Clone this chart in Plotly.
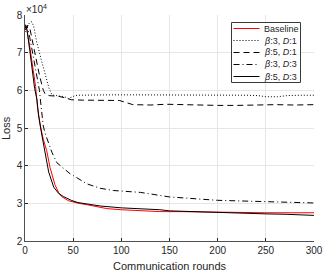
import plotly.graph_objects as go

# Loss values in units of 1e4
x_base = [0, 2, 5, 8, 11, 13, 16, 19, 22.5, 26, 31, 35, 38, 45, 54, 65, 85, 100, 120, 140, 160, 180, 200, 250, 300]
y_base = [7.70, 7.60, 7.15, 6.60, 6.10, 5.55, 5.05, 4.70, 4.40, 3.95, 3.50, 3.28, 3.18, 3.07, 3.01, 2.96, 2.86, 2.83, 2.80, 2.78, 2.78, 2.77, 2.76, 2.75, 2.75]

x_b3d1 = [0, 2, 5, 7, 9, 12, 17, 21, 25, 28, 32, 37, 42, 45, 48, 52, 55, 70, 90, 110, 130, 150, 170, 190, 210, 230, 242, 250, 262, 272, 285, 300]
y_b3d1 = [7.55, 7.70, 7.80, 7.82, 7.70, 7.30, 6.80, 6.40, 6.05, 5.88, 5.86, 5.85, 5.82, 5.78, 5.82, 5.86, 5.87, 5.88, 5.88, 5.88, 5.88, 5.88, 5.88, 5.88, 5.88, 5.87, 5.86, 5.83, 5.83, 5.86, 5.87, 5.87]

x_b5d1 = [0, 3, 5, 10, 15, 19, 21, 25, 35, 42, 48, 60, 80, 98, 112, 130, 147, 160, 180, 200, 220, 240, 260, 280, 300]
y_b5d1 = [7.60, 7.72, 7.65, 7.00, 6.40, 6.00, 5.90, 5.86, 5.84, 5.80, 5.75, 5.74, 5.74, 5.73, 5.62, 5.61, 5.63, 5.62, 5.61, 5.60, 5.60, 5.62, 5.62, 5.61, 5.62]

x_b3d3 = [0, 2, 5, 10, 15, 17, 19, 21, 23, 28, 33, 40, 47, 50, 64, 78, 92, 120, 140, 150, 200, 250, 300]
y_b3d3 = [7.65, 7.72, 7.40, 6.65, 6.00, 5.50, 5.05, 4.85, 4.70, 4.35, 4.08, 3.92, 3.78, 3.74, 3.52, 3.40, 3.34, 3.29, 3.20, 3.17, 3.08, 3.04, 3.01]

x_b5d3 = [0, 2, 5, 8, 10, 12.5, 14, 17.5, 21, 24.6, 29.8, 35, 40, 48, 55, 65, 78, 100, 120, 140, 150, 170, 190, 210, 230, 250, 270, 285, 300]
y_b5d3 = [7.75, 7.62, 7.05, 6.40, 6.05, 5.74, 5.34, 4.81, 4.28, 3.83, 3.43, 3.26, 3.18, 3.08, 3.02, 2.98, 2.93, 2.88, 2.86, 2.83, 2.80, 2.78, 2.76, 2.75, 2.73, 2.72, 2.71, 2.69, 2.68]

x_ticks = [0, 50, 100, 150, 200, 250, 300]
y_ticks = [2, 3, 4, 5, 6, 7, 8]

series_names = ["Baseline", "<i>β</i>:3, <i>D</i>:1", "<i>β</i>:5, <i>D</i>:1",
                "<i>β</i>:3, <i>D</i>:3", "<i>β</i>:5, <i>D</i>:3"]
series_x = [x_base, x_b3d1, x_b5d1, x_b3d3, x_b5d3]
series_y = [y_base, y_b3d1, y_b5d1, y_b3d3, y_b5d3]
series_color = ["#ff0000", "black", "black", "black", "black"]
series_dash = ["solid", "1px,2px", "6px,4px", "6px,3px,1px,3px", "solid"]

AX = "#262626"
GRID = "#e6e6e6"
FONT = "Liberation Sans, Arial, sans-serif"

W, H = 323, 272
ML, MR, MT, MB = 25, 9, 15, 31
PW, PH = W - ML - MR, H - MT - MB

fig = go.Figure()
for xs, ys, nm, c, d in zip(series_x, series_y, series_names, series_color, series_dash):
    fig.add_trace(go.Scatter(x=xs, y=ys, mode="lines", name=nm, showlegend=False,
                             hoverinfo="skip",
                             line=dict(color=c, width=1, dash=d)))

fig.update_layout(
    width=W, height=H,
    margin=dict(l=ML, r=MR, t=MT, b=MB),
    paper_bgcolor="white", plot_bgcolor="white",
    font=dict(family=FONT, size=10, color=AX),
    showlegend=False,
)
fig.update_xaxes(range=[0, 300], tickvals=x_ticks, ticktext=[str(v) for v in x_ticks],
                 showgrid=True, gridcolor=GRID, gridwidth=1,
                 showline=True, linecolor=AX, linewidth=0.8, mirror=False,
                 ticks="inside", ticklen=3, tickcolor=AX, zeroline=False,
                 tickfont=dict(size=10, color=AX), automargin=False)
fig.update_yaxes(range=[2, 8], tickvals=y_ticks, ticktext=[str(v) for v in y_ticks],
                 showgrid=True, gridcolor=GRID, gridwidth=1,
                 showline=True, linecolor=AX, linewidth=0.8, mirror=False,
                 ticks="inside", ticklen=3, tickcolor=AX, zeroline=False,
                 tickfont=dict(size=10, color=AX), automargin=False)

# Legend key box in the upper right, MATLAB style
def px2paper(px, py):
    return (px - ML) / PW, (H - MB - py) / PH

lx0, ly0, lx1, ly1 = 231.5, 22.5, 300.5, 82.5
ax0, ay0 = px2paper(lx0, ly0)
ax1, ay1 = px2paper(lx1, ly1)
fig.add_shape(type="rect", xref="paper", yref="paper", x0=ax0, y0=ay1, x1=ax1, y1=ay0,
              line=dict(color="#3a3a3a", width=1), fillcolor="white", layer="above")
row_h = (ly1 - ly0) / len(series_names)
for i, (nm, c, d) in enumerate(zip(series_names, series_color, series_dash)):
    cy = ly0 + row_h * (i + 0.5)
    sx0, sy = px2paper(233.5, cy)
    sx1, _ = px2paper(259.5, cy)
    tx, _ = px2paper(261.5, cy)
    fig.add_shape(type="line", xref="paper", yref="paper", x0=sx0, y0=sy, x1=sx1, y1=sy,
                  line=dict(color=c, width=1, dash=d), layer="above")
    fig.add_annotation(text=nm, xref="paper", yref="paper", x=tx, y=sy,
                       xanchor="left", yanchor="middle", showarrow=False,
                       font=dict(size=9, color=AX))

fig.add_annotation(text="×10<sup>4</sup>", xref="paper", yref="paper", x=0.0, y=1.0,
                   xanchor="left", yanchor="bottom", showarrow=False,
                   font=dict(size=10, color=AX), xshift=-1, yshift=-2)
fig.add_annotation(text="Communication rounds", xref="paper", yref="paper", x=0.5, y=0,
                   xanchor="center", yanchor="top", showarrow=False,
                   font=dict(size=11, color=AX), yshift=-17)
fig.add_annotation(text="Loss", xref="paper", yref="paper", x=0, y=0.5,
                   xanchor="center", yanchor="middle", showarrow=False, textangle=-90,
                   font=dict(size=11, color=AX), xshift=-19)

fig.write_html("out.html", config={"displayModeBar": False, "staticPlot": True},
               post_script="document.body.style.margin='0px';")
